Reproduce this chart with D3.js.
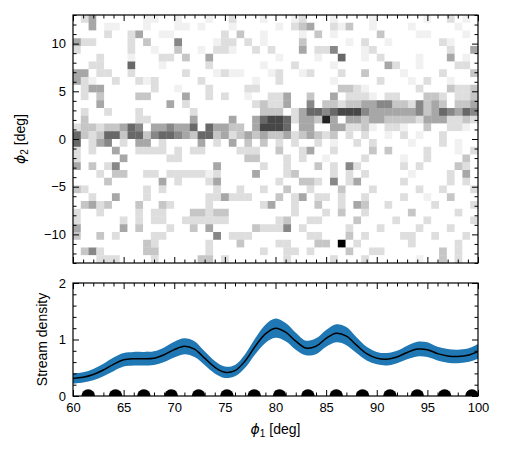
<!DOCTYPE html>
<html>
<head>
<meta charset="utf-8">
<script src="https://cdn.jsdelivr.net/npm/d3@7"></script>
<style>
  body { margin: 0; background: #fff; }
  svg { font-family: "Liberation Sans", Arial, sans-serif; }
  .axis path { display: none; }
  .axis line { stroke: #000; stroke-width: 1; }
  .axis text { font-size: 13px; fill: #000; }
</style>
</head>
<body>
<svg width="506" height="455"></svg>
<script>
// 2d histogram of stars, phi2 rows top (+13) to bottom (-13), phi1 columns 60 -> 100
// each digit is a grey level 0 (white) .. 9 (black)
var histRows = [
  "0240000001100" + "1000100200010" + "0012000100001" + "0000001002010",
  "0040110001000" + "1101000100000" + "1023400213001" + "0000100000100",
  "0000200240011" + "0000002030010" + "0001030100000" + "3000011000010",
  "4220000203000" + "5000012202010" + "0003000001020" + "0100000021000",
  "2000000200100" + "3001022100202" + "0004022500012" + "0000000002004",
  "0002000100022" + "0300400000000" + "1000010060010" + "2000010004010",
  "0022000600010" + "0000200000010" + "0020000100000" + "0420010000220",
  "4402200200000" + "0200012110001" + "2001200020030" + "0001000020003",
  "4210020021200" + "0002000000100" + "2000000100000" + "2000102001000",
  "0244000000200" + "1000200002200" + "0000000033210" + "0000020003223",
  "0203000033000" + "0400202001002" + "2400300402221" + "0220003320223",
  "0004000000004" + "0200000000232" + "2400503323344" + "5533253430334",
  "0200200020000" + "0020000000033" + "3024665677754" + "4444453465465",
  "0300000022000" + "0040000400467" + "7624438404434" + "4333324442232",
  "2332334650445" + "4460644330477" + "7604400442231" + "0221003002210",
  "6323663663566" + "5436634234343" + "3423432302020" + "0102010020000",
  "6024502044020" + "0004020403030" + "2020020100202" + "0000100020100",
  "2020040022220" + "2022000022200" + "3002400200003" + "0300002000102",
  "2000004000002" + "2000000003300" + "0202001000020" + "0001002000030",
  "4030250000000" + "0000040000020" + "0200030205200" + "0002020000320",
  "0002033002202" + "2222120000400" + "0230000202020" + "0000100002040",
  "0000300000040" + "2000240000000" + "2003320502400" + "0002000002020",
  "3200000002020" + "0000020020020" + "0300200030002" + "0000020020002",
  "0020040002000" + "0000224222000" + "3024022020020" + "0002001003000",
  "0342300030032" + "0000200000024" + "0020030020430" + "0200000200002",
  "2002000020220" + "0033233000000" + "0020002030020" + "0000300000200",
  "2000002020220" + "0222222000000" + "2300220000300" + "0020002000002",
  "4000004030002" + "0030400000322" + "2502000002000" + "2000020002000",
  "3003020000220" + "0000050222000" + "0000220003020" + "0002200200020",
  "0000000003200" + "0000200030000" + "2200033090200" + "0000200000200",
  "0352000003300" + "0000200000020" + "0220200003002" + "2000000030200",
  "0002220000200" + "0003302000000" + "0200000200020" + "0000010030200"
];

// stream density along phi1
var densPhi1 = d3.range(60, 101);
var densMid = [0.31, 0.33, 0.38, 0.46, 0.56, 0.64, 0.66, 0.66, 0.67, 0.73,
  0.82, 0.88, 0.83, 0.67, 0.51, 0.42, 0.45, 0.62, 0.88, 1.10,
  1.20, 1.13, 0.97, 0.85, 0.88, 1.02, 1.11, 1.06, 0.90, 0.75,
  0.67, 0.65, 0.69, 0.77, 0.83, 0.82, 0.75, 0.71, 0.70, 0.72, 0.79];
var densLo = [0.22, 0.24, 0.28, 0.35, 0.44, 0.52, 0.54, 0.54, 0.55, 0.60,
  0.68, 0.74, 0.69, 0.55, 0.40, 0.32, 0.35, 0.50, 0.74, 0.94,
  1.03, 0.97, 0.82, 0.72, 0.74, 0.87, 0.95, 0.90, 0.76, 0.63,
  0.56, 0.54, 0.58, 0.65, 0.70, 0.69, 0.63, 0.59, 0.58, 0.60, 0.66];
var densHi = [0.40, 0.42, 0.48, 0.57, 0.68, 0.76, 0.78, 0.78, 0.79, 0.86,
  0.96, 1.02, 0.97, 0.79, 0.62, 0.52, 0.55, 0.74, 1.02, 1.26,
  1.37, 1.29, 1.12, 0.98, 1.02, 1.17, 1.27, 1.22, 1.04, 0.87,
  0.78, 0.76, 0.80, 0.89, 0.96, 0.95, 0.87, 0.83, 0.82, 0.84, 0.92];

// spline node positions drawn along the bottom
var nodes = [61.5, 64.2, 67.0, 69.7, 72.4, 75.2, 77.9, 80.4, 83.2, 86.0, 88.6, 91.3, 94.0, 96.7, 99.4];

var svg = d3.select("svg");
var left = 73, right = 478;
var top1 = 15, bot1 = 263, top2 = 283, bot2 = 396;
var width = right - left;

var x = d3.scaleLinear().domain([60, 100]).range([0, width]);
var y1 = d3.scaleLinear().domain([-13, 13]).range([bot1 - top1, 0]);
var y2 = d3.scaleLinear().domain([0, 2]).range([bot2 - top2, 0]);

var nCols = histRows[0].length, nRows = histRows.length;
var colBand = d3.scaleBand().domain(d3.range(nCols)).range([0, width]);
var rowBand = d3.scaleBand().domain(d3.range(nRows)).range([0, bot1 - top1]);
var grey = d3.scaleSequential(d3.interpolateGreys).domain([0, 9]);

// ---- top panel ----
var g1 = svg.append("g").attr("transform", `translate(${left},${top1})`);

var cells = [];
histRows.forEach((row, r) => {
  row.split("").forEach((c, i) => cells.push({ r: r, c: i, v: +c }));
});

g1.selectAll(".cell")
  .data(cells)
  .enter().append("rect")
  .attr("class", "cell")
  .attr("x", d => colBand(d.c))
  .attr("y", d => rowBand(d.r))
  .attr("width", colBand.bandwidth() + 0.3)
  .attr("height", rowBand.bandwidth() + 0.3)
  .attr("fill", d => grey(d.v));

function frame(g, h) {
  g.append("rect")
    .attr("width", width).attr("height", h)
    .attr("fill", "none").attr("stroke", "#000").attr("stroke-width", 1.2);
}

var xMajor = d3.range(60, 101, 5), xMinor = d3.range(60, 101, 1).filter(v => v % 5);

function xTicks(g, h, labels) {
  g.append("g").attr("class", "axis").attr("transform", `translate(0,${h})`)
    .call(d3.axisBottom(x).tickValues(xMajor).tickSize(-6).tickPadding(7)
      .tickFormat(labels ? d3.format("d") : ""));
  g.append("g").attr("class", "axis").attr("transform", `translate(0,${h})`)
    .call(d3.axisBottom(x).tickValues(xMinor).tickSize(-3.5).tickFormat(""));
  g.append("g").attr("class", "axis")
    .call(d3.axisTop(x).tickValues(xMajor).tickSize(-6).tickFormat(""));
  g.append("g").attr("class", "axis")
    .call(d3.axisTop(x).tickValues(xMinor).tickSize(-3.5).tickFormat(""));
}

function yTicks(g, y, major, minor, fmt) {
  g.append("g").attr("class", "axis")
    .call(d3.axisLeft(y).tickValues(major).tickSize(-6).tickPadding(7).tickFormat(fmt));
  g.append("g").attr("class", "axis")
    .call(d3.axisLeft(y).tickValues(minor).tickSize(-3.5).tickFormat(""));
  g.append("g").attr("class", "axis").attr("transform", `translate(${width},0)`)
    .call(d3.axisRight(y).tickValues(major).tickSize(-6).tickFormat(""));
  g.append("g").attr("class", "axis").attr("transform", `translate(${width},0)`)
    .call(d3.axisRight(y).tickValues(minor).tickSize(-3.5).tickFormat(""));
}

var minusFmt = v => (v < 0 ? "\u2212" + Math.abs(v) : "" + v);

xTicks(g1, bot1 - top1, false);
yTicks(g1, y1, [-10, -5, 0, 5, 10], d3.range(-13, 14).filter(v => v % 5), minusFmt);
frame(g1, bot1 - top1);

// ---- bottom panel ----
var g2 = svg.append("g").attr("transform", `translate(${left},${top2})`);

g2.append("clipPath").attr("id", "clip2")
  .append("rect").attr("width", width).attr("height", bot2 - top2);

var dens = densPhi1.map((p, i) => ({ p: p, m: densMid[i], lo: densLo[i], hi: densHi[i] }));

g2.append("path")
  .datum(dens)
  .attr("fill", "#1f77b4")
  .attr("d", d3.area().curve(d3.curveCatmullRom)
    .x(d => x(d.p)).y0(d => y2(d.lo)).y1(d => y2(d.hi)));

g2.append("path")
  .datum(dens)
  .attr("fill", "none")
  .attr("stroke", "#000")
  .attr("stroke-width", 1.5)
  .attr("d", d3.line().curve(d3.curveCatmullRom).x(d => x(d.p)).y(d => y2(d.m)));

g2.append("g").attr("clip-path", "url(#clip2)")
  .selectAll("circle")
  .data(nodes)
  .enter().append("circle")
  .attr("cx", d => x(d))
  .attr("cy", y2(0))
  .attr("r", 6.8)
  .attr("fill", "#000");

xTicks(g2, bot2 - top2, true);
yTicks(g2, y2, [0, 1, 2], d3.range(0.2, 2, 0.2).filter(v => Math.abs(v - 1) > 0.01), d3.format("d"));
frame(g2, bot2 - top2);

// ---- axis labels ----
function phiLabel(sel, sub) {
  sel.append("tspan").attr("font-style", "italic").attr("font-family", "DejaVu Sans").text("\u03d5");
  sel.append("tspan").attr("font-size", "10px").attr("dy", 3).text(sub);
  sel.append("tspan").attr("dy", -3).text(" [deg]");
}

svg.append("text")
  .attr("transform", `translate(${left + width / 2},434)`)
  .attr("text-anchor", "middle").attr("font-size", "14px")
  .call(phiLabel, "1");

svg.append("text")
  .attr("transform", `translate(25,${(top1 + bot1) / 2}) rotate(-90)`)
  .attr("text-anchor", "middle").attr("font-size", "14px")
  .call(phiLabel, "2");

svg.append("text")
  .attr("transform", `translate(47,${(top2 + bot2) / 2}) rotate(-90)`)
  .attr("text-anchor", "middle").attr("font-size", "14px")
  .text("Stream density");
</script>
</body>
</html>
